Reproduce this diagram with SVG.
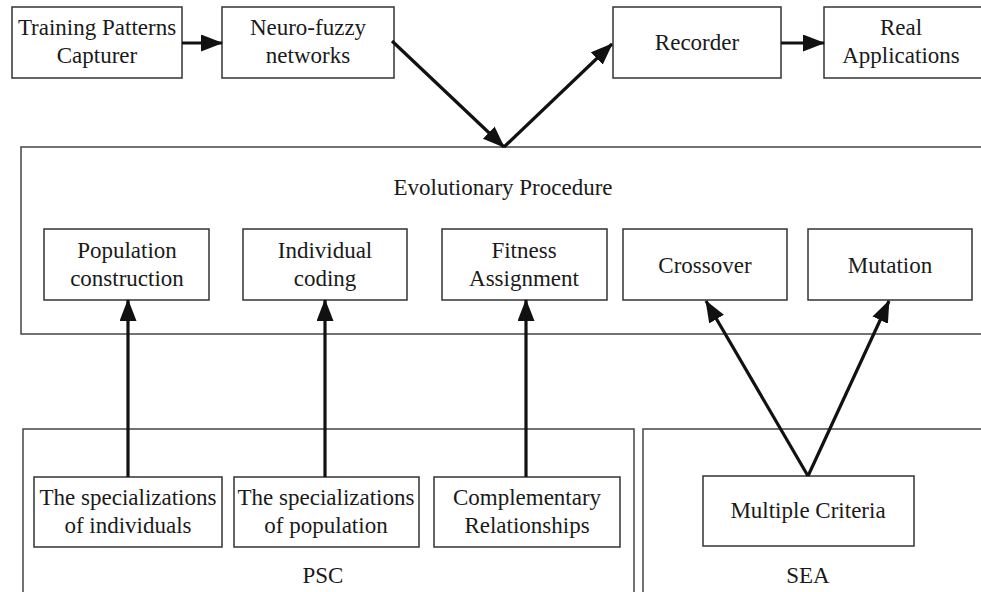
<svg xmlns="http://www.w3.org/2000/svg" width="981" height="592" viewBox="0 0 981 592">
<style>
.box{fill:#fff;stroke:#333;stroke-width:1.5}
.frame{fill:none;stroke:#444;stroke-width:1.5}
text{font-family:"Liberation Serif","Times New Roman",serif;font-size:23px;fill:#1a1a1a;text-anchor:middle}
.con{stroke:#111;stroke-width:3.2;fill:none}
</style>
<defs>
<marker id="ah" markerUnits="userSpaceOnUse" markerWidth="22" markerHeight="18" refX="21" refY="8.5" orient="auto">
<path d="M0,0 L22,8.5 L0,17 Z" fill="#111"/>
</marker>
</defs>
<rect width="981" height="592" fill="#fff"/>
<g id="evolutionary-procedure">
<rect class="frame" x="21" y="147" width="970" height="187"/>
<text x="503" y="195">Evolutionary Procedure</text>
</g>
<g id="psc">
<rect class="frame" x="23" y="429" width="611" height="180"/>
<text x="323" y="583">PSC</text>
</g>
<g id="sea">
<rect class="frame" x="643" y="429" width="350" height="180"/>
<text x="808" y="583">SEA</text>
</g>
<g id="training"><rect class="box" x="12" y="7" width="170" height="71"/><text x="97" y="35">Training Patterns</text><text x="97" y="63">Capturer</text></g>
<g id="neuro"><rect class="box" x="222" y="7" width="172" height="71"/><text x="308" y="35">Neuro-fuzzy</text><text x="308" y="63">networks</text></g>
<g id="recorder"><rect class="box" x="613" y="7" width="168" height="71"/><text x="697" y="50">Recorder</text></g>
<g id="real"><rect class="box" x="824" y="7" width="170" height="71"/><text x="901" y="35">Real</text><text x="901" y="63">Applications</text></g>
<g id="population"><rect class="box" x="44" y="229" width="165" height="71"/><text x="127" y="258">Population</text><text x="127" y="286">construction</text></g>
<g id="individual"><rect class="box" x="243" y="229" width="164" height="71"/><text x="325" y="258">Individual</text><text x="325" y="286">coding</text></g>
<g id="fitness"><rect class="box" x="442" y="229" width="165" height="71"/><text x="524" y="258">Fitness</text><text x="524" y="286">Assignment</text></g>
<g id="crossover"><rect class="box" x="623" y="229" width="164" height="71"/><text x="705" y="273">Crossover</text></g>
<g id="mutation"><rect class="box" x="808" y="229" width="164" height="71"/><text x="890" y="273">Mutation</text></g>
<g id="spec-ind"><rect class="box" x="34" y="477" width="188" height="70"/><text x="128" y="505">The specializations</text><text x="128" y="533">of individuals</text></g>
<g id="spec-pop"><rect class="box" x="234" y="477" width="185" height="70"/><text x="326" y="505">The specializations</text><text x="326" y="533">of population</text></g>
<g id="complementary"><rect class="box" x="434" y="477" width="186" height="70"/><text x="527" y="505">Complementary</text><text x="527" y="533">Relationships</text></g>
<g id="multiple"><rect class="box" x="703" y="476" width="211" height="70"/><text x="808" y="518">Multiple Criteria</text></g>
<g id="connectors">
<line class="con" x1="182" y1="43" x2="222" y2="43" marker-end="url(#ah)"/>
<line class="con" x1="781" y1="43" x2="824" y2="43" marker-end="url(#ah)"/>
<line class="con" x1="392" y1="41" x2="504" y2="147" marker-end="url(#ah)"/>
<line class="con" x1="504" y1="147" x2="612" y2="44" marker-end="url(#ah)"/>
<line class="con" x1="128" y1="477" x2="128" y2="300" marker-end="url(#ah)"/>
<line class="con" x1="325" y1="477" x2="325" y2="300" marker-end="url(#ah)"/>
<line class="con" x1="526" y1="477" x2="526" y2="300" marker-end="url(#ah)"/>
<line class="con" x1="808" y1="476" x2="706" y2="301" marker-end="url(#ah)"/>
<line class="con" x1="808" y1="476" x2="889" y2="301" marker-end="url(#ah)"/>
</g>
</svg>
